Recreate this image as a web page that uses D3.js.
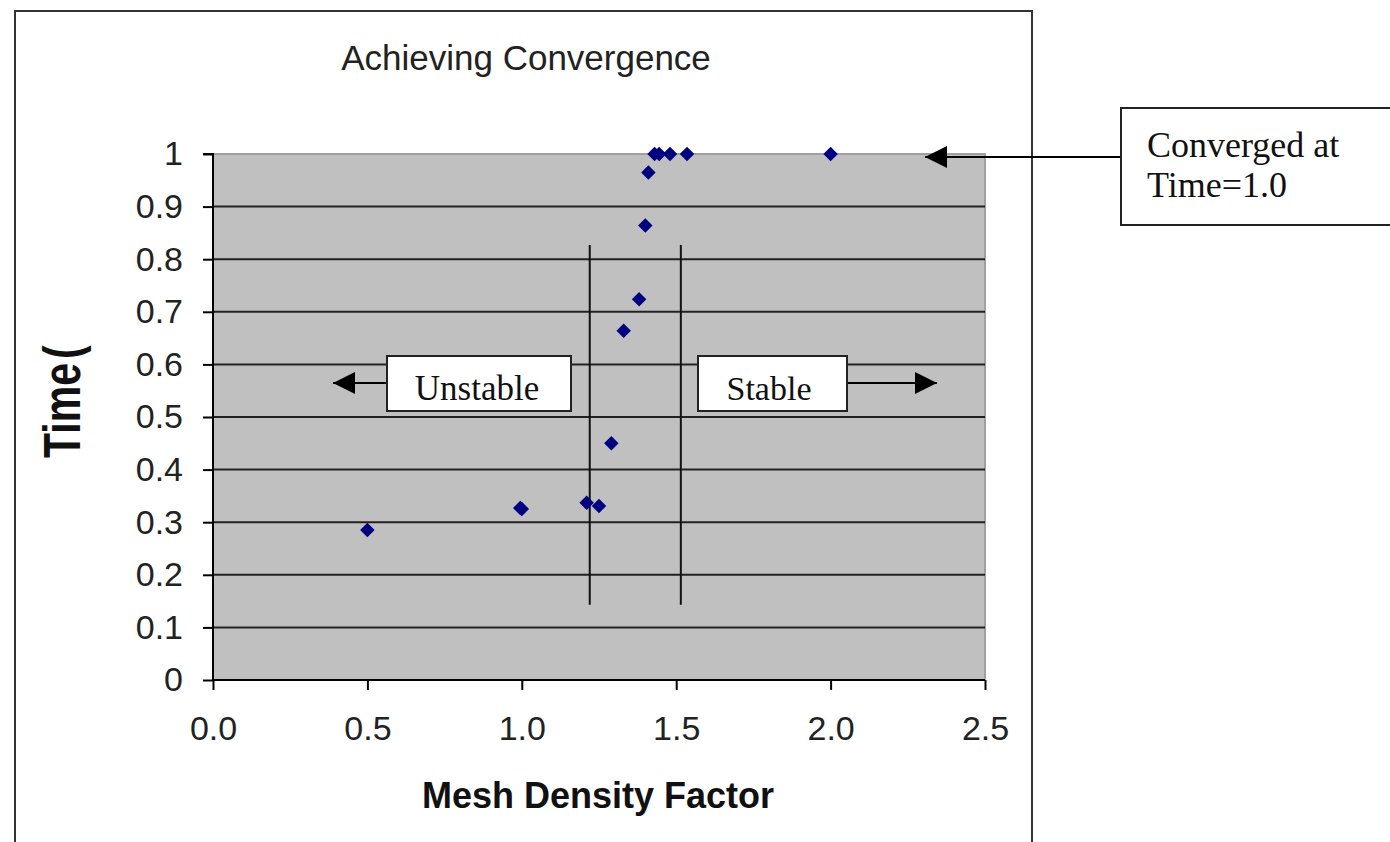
<!DOCTYPE html>
<html><head><meta charset="utf-8">
<script src="https://cdn.jsdelivr.net/npm/d3@7"></script>
<style>body{margin:0;background:#fff;}svg{display:block;}</style>
</head><body>
<svg id="c" width="1390" height="842"></svg>
<script>
const meshFactor = [0.5, 0.995, 1.0, 1.21, 1.25, 1.29, 1.33, 1.38, 1.40, 1.41, 1.43, 1.445, 1.48, 1.535, 2.0];
const timeValue  = [0.285, 0.327, 0.325, 0.337, 0.331, 0.45, 0.664, 0.724, 0.864, 0.965, 1.0, 1.0, 1.0, 1.0, 1.0];
const xTicks = [0, 0.5, 1.0, 1.5, 2.0, 2.5];
const yTicks = [0, 0.1, 0.2, 0.3, 0.4, 0.5, 0.6, 0.7, 0.8, 0.9, 1];
const stabilityBounds = [1.22, 1.515];
const boundRange = [0.143, 0.827];
const titleText = "Achieving Convergence";
const xLabel = "Mesh Density Factor";
const yLabel = "Time";
const yLabelCut = "(";
const noteText = ["Converged at", "Time=1.0"];

const svg = d3.select("#c");
const sans = "'Liberation Sans', Arial, sans-serif";
const serif = "'Liberation Serif', 'Times New Roman', serif";

// chart area border
svg.append("rect").attr("x",15).attr("y",11).attr("width",1017).attr("height",860)
  .attr("fill","#fff").attr("stroke","#333").attr("stroke-width",2);

const x = d3.scaleLinear().domain([0,2.5]).range([213,985]);
const y = d3.scaleLinear().domain([0,1]).range([680,154]);

// plot area
svg.append("rect").attr("x",x(0)).attr("y",y(1)).attr("width",x(2.5)-x(0)).attr("height",y(0)-y(1))
  .attr("fill","#c0c0c0").attr("stroke","#a0a0a0").attr("stroke-width",2);

// gridlines
svg.append("g").selectAll("line").data(yTicks.filter(d=>d>0 && d<1)).join("line")
  .attr("x1",x(0)).attr("x2",x(2.5)).attr("y1",d=>y(d)).attr("y2",d=>y(d))
  .attr("stroke","#222").attr("stroke-width",2);

// axes
const yAxis = d3.axisLeft(y).tickValues(yTicks).tickSize(10).tickPadding(20)
  .tickFormat(d=>d===0?"0":d===1?"1":d3.format(".1f")(d));
const gy = svg.append("g").attr("transform",`translate(${x(0)},0)`).call(yAxis);
gy.select(".domain").attr("stroke","#000").attr("stroke-width",2).attr("d",`M-10,${y(1)}H0V${y(0)}`);
gy.selectAll(".tick line").attr("stroke","#000").attr("stroke-width",2);
gy.selectAll(".tick text").attr("font-family",sans).attr("font-size",34).attr("fill","#222");

const xAxis = d3.axisBottom(x).tickValues(xTicks).tickSize(10).tickPadding(26).tickFormat(d3.format(".1f"));
const gx = svg.append("g").attr("transform",`translate(0,${y(0)})`).call(xAxis);
gx.select(".domain").attr("stroke","#000").attr("stroke-width",2).attr("d",`M${x(0)},0H${x(2.5)}`);
gx.selectAll(".tick line").attr("stroke","#000").attr("stroke-width",2);
gx.selectAll(".tick text").attr("font-family",sans).attr("font-size",34).attr("fill","#222");

// title
svg.append("text").attr("x",526).attr("y",70).attr("text-anchor","middle")
  .attr("font-family",sans).attr("font-size",35).attr("fill","#222").text(titleText);

// axis titles
svg.append("text").attr("x",598).attr("y",808).attr("text-anchor","middle")
  .attr("font-family",sans).attr("font-weight","bold").attr("font-size",36).attr("fill","#111").text(xLabel);

svg.append("clipPath").attr("id","yclip").append("rect").attr("x",20).attr("y",344).attr("width",100).attr("height",200);
const ylg = svg.append("g").attr("clip-path","url(#yclip)");
ylg.append("text").attr("transform","translate(80,458) rotate(-90) scale(1,1.25)").attr("text-anchor","start")
  .attr("font-family",sans).attr("font-weight","bold").attr("font-size",41).attr("fill","#111")
  .attr("textLength",95).attr("lengthAdjust","spacingAndGlyphs").text(yLabel);
ylg.append("text").attr("transform","translate(80,359) rotate(-90) scale(1,1.25)").attr("text-anchor","start")
  .attr("font-family",sans).attr("font-weight","bold").attr("font-size",41).attr("fill","#111").text(yLabelCut);

// stability boundary lines
svg.append("g").selectAll("line").data(stabilityBounds).join("line")
  .attr("x1",d=>x(d)).attr("x2",d=>x(d)).attr("y1",y(boundRange[0])).attr("y2",y(boundRange[1]))
  .attr("stroke","#111").attr("stroke-width",2);

// arrow marker
const defs = svg.append("defs");
defs.append("marker").attr("id","ah").attr("viewBox","0 0 10 10").attr("refX",10).attr("refY",5)
  .attr("markerWidth",26).attr("markerHeight",22).attr("markerUnits","userSpaceOnUse")
  .attr("orient","auto").append("path").attr("d","M0,0L10,5L0,10z").attr("fill","#000");

// Unstable / Stable boxes
const labY = 383;
svg.append("line").attr("x1",387).attr("x2",333).attr("y1",labY).attr("y2",labY)
  .attr("stroke","#000").attr("stroke-width",2).attr("marker-end","url(#ah)");
svg.append("line").attr("x1",847).attr("x2",937).attr("y1",labY).attr("y2",labY)
  .attr("stroke","#000").attr("stroke-width",2).attr("marker-end","url(#ah)");
svg.append("rect").attr("x",387).attr("y",356).attr("width",184).attr("height",55)
  .attr("fill","#fff").attr("stroke","#222").attr("stroke-width",2);
svg.append("rect").attr("x",698).attr("y",356).attr("width",149).attr("height",55)
  .attr("fill","#fff").attr("stroke","#222").attr("stroke-width",2);
svg.append("text").attr("x",477).attr("y",400).attr("text-anchor","middle")
  .attr("font-family",serif).attr("font-size",35).attr("fill","#111").text("Unstable");
svg.append("text").attr("x",769).attr("y",400).attr("text-anchor","middle")
  .attr("font-family",serif).attr("font-size",34).attr("fill","#111").text("Stable");

// converged note
svg.append("line").attr("x1",1121).attr("x2",925).attr("y1",157).attr("y2",157)
  .attr("stroke","#000").attr("stroke-width",2).attr("marker-end","url(#ah)");
svg.append("rect").attr("x",1121).attr("y",108).attr("width",290).attr("height",117)
  .attr("fill","#fff").attr("stroke","#222").attr("stroke-width",2);
svg.append("text").attr("font-family",serif).attr("font-size",36).attr("fill","#111")
  .selectAll("tspan").data(noteText).join("tspan").attr("x",1147).attr("y",(d,i)=>157+i*40).text(d=>d);

// points
const diamond = d3.symbol().type(d3.symbolSquare).size(105);
svg.append("g").selectAll("path").data(meshFactor.map((m,i)=>[m,timeValue[i]])).join("path")
  .attr("d",diamond).attr("fill","#000080")
  .attr("transform",d=>`translate(${x(d[0])},${y(d[1])}) rotate(45)`);
</script>
</body></html>
